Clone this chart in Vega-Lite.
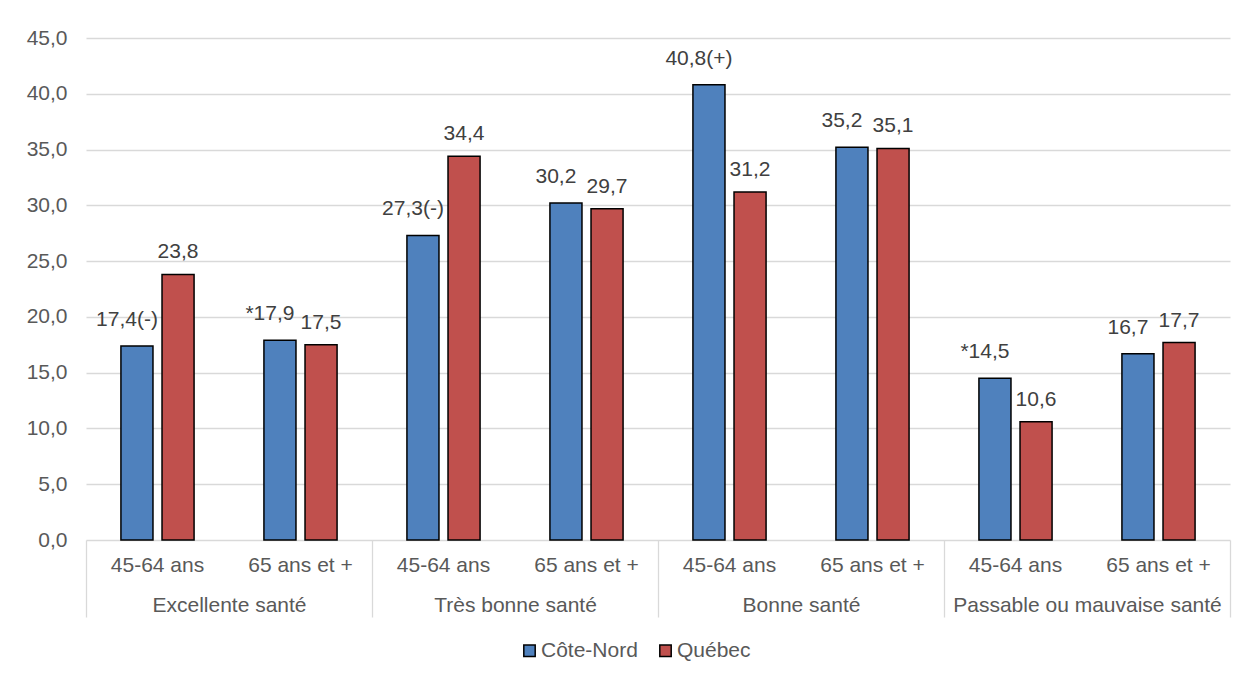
{
  "$schema": "https://vega.github.io/schema/vega-lite/v6.json",
  "width": 1144,
  "height": 502,
  "autosize": "none",
  "padding": {"left": 86, "top": 38, "right": 16, "bottom": 139},
  "background": "white",
  "config": {
    "font": "Liberation Sans",
    "view": {"stroke": null},
    "axis": {"labelFont": "Liberation Sans", "labelFontSize": 21, "labelColor": "#595959", "labelLimit": 0},
    "legend": {"labelFont": "Liberation Sans", "labelFontSize": 21, "labelColor": "#595959", "labelLimit": 0}
  },
  "data": {
    "values": [
      {"group": "Excellente santé", "age": "45-64 ans", "key": "Excellente santé|45-64 ans", "region": "Côte-Nord", "value": 17.4, "label": "17,4(-)"},
      {"group": "Excellente santé", "age": "45-64 ans", "key": "Excellente santé|45-64 ans", "region": "Québec", "value": 23.8, "label": "23,8"},
      {"group": "Excellente santé", "age": "65 ans et +", "key": "Excellente santé|65 ans et +", "region": "Côte-Nord", "value": 17.9, "label": "*17,9"},
      {"group": "Excellente santé", "age": "65 ans et +", "key": "Excellente santé|65 ans et +", "region": "Québec", "value": 17.5, "label": "17,5"},
      {"group": "Très bonne santé", "age": "45-64 ans", "key": "Très bonne santé|45-64 ans", "region": "Côte-Nord", "value": 27.3, "label": "27,3(-)"},
      {"group": "Très bonne santé", "age": "45-64 ans", "key": "Très bonne santé|45-64 ans", "region": "Québec", "value": 34.4, "label": "34,4"},
      {"group": "Très bonne santé", "age": "65 ans et +", "key": "Très bonne santé|65 ans et +", "region": "Côte-Nord", "value": 30.2, "label": "30,2"},
      {"group": "Très bonne santé", "age": "65 ans et +", "key": "Très bonne santé|65 ans et +", "region": "Québec", "value": 29.7, "label": "29,7"},
      {"group": "Bonne santé", "age": "45-64 ans", "key": "Bonne santé|45-64 ans", "region": "Côte-Nord", "value": 40.8, "label": "40,8(+)"},
      {"group": "Bonne santé", "age": "45-64 ans", "key": "Bonne santé|45-64 ans", "region": "Québec", "value": 31.2, "label": "31,2"},
      {"group": "Bonne santé", "age": "65 ans et +", "key": "Bonne santé|65 ans et +", "region": "Côte-Nord", "value": 35.2, "label": "35,2"},
      {"group": "Bonne santé", "age": "65 ans et +", "key": "Bonne santé|65 ans et +", "region": "Québec", "value": 35.1, "label": "35,1"},
      {"group": "Passable ou mauvaise santé", "age": "45-64 ans", "key": "Passable ou mauvaise santé|45-64 ans", "region": "Côte-Nord", "value": 14.5, "label": "*14,5"},
      {"group": "Passable ou mauvaise santé", "age": "45-64 ans", "key": "Passable ou mauvaise santé|45-64 ans", "region": "Québec", "value": 10.6, "label": "10,6"},
      {"group": "Passable ou mauvaise santé", "age": "65 ans et +", "key": "Passable ou mauvaise santé|65 ans et +", "region": "Côte-Nord", "value": 16.7, "label": "16,7"},
      {"group": "Passable ou mauvaise santé", "age": "65 ans et +", "key": "Passable ou mauvaise santé|65 ans et +", "region": "Québec", "value": 17.7, "label": "17,7"}
    ]
  },
  "layer": [
    {
      "encoding": {
        "x": {
          "field": "key",
          "type": "nominal",
          "sort": ["Excellente santé|45-64 ans", "Excellente santé|65 ans et +", "Très bonne santé|45-64 ans", "Très bonne santé|65 ans et +", "Bonne santé|45-64 ans", "Bonne santé|65 ans et +", "Passable ou mauvaise santé|45-64 ans", "Passable ou mauvaise santé|65 ans et +"],
          "scale": {"paddingInner": 0, "paddingOuter": 0},
          "axis": {
            "orient": "bottom",
            "title": null,
            "domain": false,
            "ticks": false,
            "labelAngle": 0,
            "labelPadding": 14,
            "labelExpr": "split(datum.label, '|')[1]"
          }
        },
        "xOffset": {
          "field": "region",
          "type": "nominal",
          "sort": ["Côte-Nord", "Québec"],
          "scale": {"paddingInner": 0.22, "paddingOuter": 0.85}
        },
        "y": {
          "field": "value",
          "type": "quantitative",
          "scale": {"domain": [0, 45]},
          "axis": {
            "title": null,
            "values": [0, 5, 10, 15, 20, 25, 30, 35, 40, 45],
            "domain": false,
            "ticks": false,
            "labelPadding": 19,
            "gridColor": "#d9d9d9",
            "gridWidth": 1.3,
            "labelExpr": "replace(format(datum.value, '.1f'), '.', ',')"
          }
        }
      },
      "layer": [
        {
          "mark": {"type": "bar", "stroke": "black", "strokeWidth": 1.5},
          "encoding": {
            "color": {
              "field": "region",
              "type": "nominal",
              "scale": {"domain": ["Côte-Nord", "Québec"], "range": ["#4F81BD", "#C0504D"]},
              "legend": {
                "title": null,
                "orient": "none",
                "direction": "horizontal",
                "legendX": 433,
                "legendY": 602,
                "symbolType": "square",
                "symbolSize": 130,
                "symbolStrokeColor": "black",
                "symbolStrokeWidth": 1.5,
                "symbolOpacity": 1,
                "labelOffset": 1,
                "columnPadding": 17
              }
            }
          }
        },
        {
          "transform": [{"filter": "datum.region === 'Côte-Nord'"}],
          "mark": {"type": "text", "align": "center", "baseline": "bottom", "dx": -10, "dy": -16, "fontSize": 21, "color": "#404040", "font": "Liberation Sans"},
          "encoding": {"text": {"field": "label", "type": "nominal"}}
        },
        {
          "transform": [{"filter": "datum.region === 'Québec'"}],
          "mark": {"type": "text", "align": "center", "baseline": "bottom", "dy": -12, "fontSize": 21, "color": "#404040", "font": "Liberation Sans"},
          "encoding": {"text": {"field": "label", "type": "nominal"}}
        }
      ]
    },
    {
      "mark": {"type": "point", "opacity": 0},
      "encoding": {
        "x": {
          "field": "group",
          "type": "nominal",
          "sort": ["Excellente santé", "Très bonne santé", "Bonne santé", "Passable ou mauvaise santé"],
          "scale": {"paddingInner": 0, "paddingOuter": 0},
          "axis": {
            "orient": "bottom",
            "title": null,
            "domain": false,
            "ticks": true,
            "tickBand": "extent",
            "tickSize": 77,
            "tickColor": "#d9d9d9",
            "tickWidth": 1.3,
            "labelAngle": 0,
            "labelPadding": -23
          }
        },
        "y": {"field": "value", "type": "quantitative"}
      }
    }
  ],
  "resolve": {"scale": {"x": "independent"}, "axis": {"x": "independent"}}
}
